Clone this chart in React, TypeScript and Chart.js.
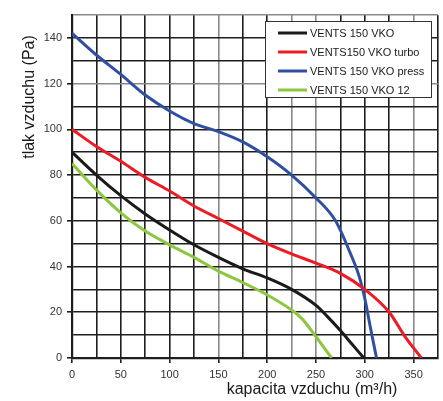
import React, { useEffect, useRef } from "react";
import { Chart, registerables } from "chart.js";

Chart.register(...registerables);

const seriesNames = ["VENTS 150 VKO", "VENTS150 VKO turbo", "VENTS 150 VKO press", "VENTS 150 VKO 12"];
const seriesColors = ["#1a1a1a", "#ed1c24", "#2f4fa2", "#8dc63f"];

const blackX = [0, 25, 50, 75, 100, 125, 150, 175, 200, 225, 250, 262, 275, 287, 299];
const blackY = [90, 80, 71, 63, 56, 49.5, 44, 39, 35, 30, 23, 18, 12, 6, 0];

const redX = [0, 25, 50, 75, 100, 125, 150, 175, 200, 225, 250, 275, 300, 325, 341, 358];
const redY = [100, 92.5, 86, 79, 73, 66.5, 61, 55.5, 50, 45.5, 41.5, 37, 30, 20, 9.5, 0];

const blueX = [0, 25, 50, 75, 100, 125, 150, 175, 200, 225, 250, 270, 285, 294, 300, 305, 312];
const blueY = [142, 132.5, 124, 115, 108, 102.5, 99, 94.5, 88, 80, 70, 60, 46, 36, 26, 15, 0];

const greenX = [0, 25, 50, 75, 100, 125, 150, 175, 200, 225, 236, 250, 266];
const greenY = [85, 73.5, 63.5, 55.5, 49.5, 44, 38, 33, 27.6, 21, 17, 9.3, 0];

const xLabelStep = 50;
const yLabelStep = 20;
const xGrayLines = [150, 225, 250, 350];
const yGrayLines = [120, 150];

const xTitle = "kapacita vzduchu (m³/h)";
const yTitle = "tlak vzduchu (Pa)";

const FONT = "'Liberation Sans', Arial, sans-serif";

const toPoints = (xs: number[], ys: number[]) => xs.map((x, i) => ({ x, y: ys[i] }));

const overlayPlugin = {
  id: "overlay",
  afterDraw(chart: any) {
    const ctx = chart.ctx;
    ctx.save();
    // axis titles
    ctx.fillStyle = "#1a1a1a";
    ctx.font = `16px ${FONT}`;
    ctx.textAlign = "center";
    ctx.textBaseline = "middle";
    ctx.fillText(xTitle, 312, 390);
    ctx.translate(30, 97);
    ctx.rotate(-Math.PI / 2);
    ctx.fillText(yTitle, 0, 0);
    ctx.restore();

    // legend
    ctx.save();
    const lx = 265, ly = 21, lw = 166, lh = 76;
    ctx.fillStyle = "#ffffff";
    ctx.fillRect(lx, ly, lw, lh);
    ctx.strokeStyle = "#333";
    ctx.lineWidth = 1;
    ctx.strokeRect(lx + 0.5, ly + 0.5, lw, lh);
    ctx.font = `11px ${FONT}`;
    ctx.textAlign = "left";
    ctx.textBaseline = "middle";
    seriesNames.forEach((name, i) => {
      const y = 33 + i * 19;
      ctx.strokeStyle = seriesColors[i];
      ctx.lineWidth = 3;
      ctx.beginPath();
      ctx.moveTo(278, y);
      ctx.lineTo(307, y);
      ctx.stroke();
      ctx.fillStyle = "#1a1a1a";
      ctx.fillText(name, 310, y + 0.5);
    });
    ctx.restore();
  },
};

export default function App() {
  const ref = useRef<HTMLCanvasElement>(null);

  useEffect(() => {
    if (!ref.current) return;
    const data = [toPoints(blackX, blackY), toPoints(redX, redY), toPoints(blueX, blueY), toPoints(greenX, greenY)];
    const chart = new Chart(ref.current, {
      type: "line",
      data: {
        datasets: data.map((d, i) => ({
          label: seriesNames[i],
          data: d,
          borderColor: seriesColors[i],
          backgroundColor: seriesColors[i],
          borderWidth: 3,
          pointRadius: 0,
          cubicInterpolationMode: "monotone" as const,
          fill: false,
        })),
      },
      options: {
        responsive: false,
        animation: false,
        layout: { padding: { top: 15, right: 3, left: 0, bottom: 0 } },
        plugins: {
          legend: { display: false },
          tooltip: { enabled: false },
        },
        scales: {
          x: {
            type: "linear",
            min: 0,
            max: 375,
            afterFit: (s: any) => {
              s.height = 43;
            },
            ticks: {
              stepSize: 25,
              autoSkip: false,
              maxRotation: 0,
              padding: 5,
              color: "#333",
              font: { family: FONT, size: 11 },
              callback: (v: any) => (Number(v) % xLabelStep === 0 ? String(v) : ""),
            },
            grid: {
              color: (c: any) => (xGrayLines.includes(c.tick?.value) ? "#8a8a8a" : "#1e1e1e"),
              lineWidth: 1.6,
              tickLength: 5,
              tickColor: (c: any) => (c.tick && c.tick.value % xLabelStep === 0 ? "#1e1e1e" : "rgba(0,0,0,0)"),
            },
            border: { color: "#1e1e1e", width: 2.2 },
          },
          y: {
            type: "linear",
            min: 0,
            max: 150,
            afterFit: (s: any) => {
              s.width = 72;
            },
            ticks: {
              stepSize: 10,
              autoSkip: false,
              padding: 5,
              color: "#333",
              font: { family: FONT, size: 11 },
              callback: (v: any) => (Number(v) % yLabelStep === 0 ? String(v) : ""),
            },
            grid: {
              color: (c: any) => (yGrayLines.includes(c.tick?.value) ? "#8a8a8a" : "#1e1e1e"),
              lineWidth: 1.6,
              tickLength: 5,
              tickColor: (c: any) => (c.tick && c.tick.value % yLabelStep === 0 ? "#1e1e1e" : "rgba(0,0,0,0)"),
            },
            border: { color: "#1e1e1e", width: 2.2 },
          },
        },
      },
      plugins: [overlayPlugin],
    });
    return () => chart.destroy();
  }, []);

  return (
    <div style={{ position: "absolute", left: 0, top: 0, width: 443, height: 401, background: "#fff" }}>
      <canvas ref={ref} width={443} height={401} style={{ display: "block" }} />
    </div>
  );
}
